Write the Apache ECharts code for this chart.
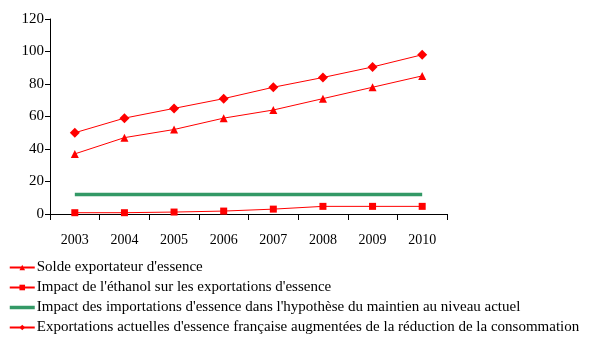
<!DOCTYPE html>
<html>
<head>
<meta charset="utf-8">
<script src="https://cdn.jsdelivr.net/npm/echarts@6/dist/echarts.min.js"></script>
<style>
  html, body { margin: 0; padding: 0; background: #fff; }
  #chart { width: 612px; height: 342px; }
</style>
</head>
<body>
<div id="chart"></div>
<script>
// Years on the x axis
var years = ['2003', '2004', '2005', '2006', '2007', '2008', '2009', '2010'];

// Series values
var soldeExportateur = [37, 47, 52, 59, 64, 71, 78, 85];
var impactEthanol = [0.8, 0.8, 1.2, 1.8, 3, 4.7, 4.7, 4.7];
var impactImportations = [12, 12, 12, 12, 12, 12, 12, 12];
var exportationsActuelles = [50, 59, 65, 71, 78, 84, 90.5, 98];

// Series names (legend text)
var names = [
  "Solde exportateur d'essence",
  "Impact de l'éthanol sur les exportations d'essence",
  "Impact des importations d'essence dans l'hypothèse du maintien au niveau actuel",
  "Exportations actuelles d'essence française augmentées de la réduction de la consommation"
];

var font = 'Liberation Serif';
var red = '#ff0000';
var green = '#339966';

var chart = echarts.init(document.getElementById('chart'), null, { renderer: 'canvas' });

chart.setOption({
  animation: false,
  backgroundColor: '#ffffff',
  grid: { left: 50, right: 165, top: 19, bottom: 128, containLabel: false },
  xAxis: {
    type: 'category',
    data: years,
    boundaryGap: true,
    axisLine: { lineStyle: { color: '#000', width: 1 } },
    axisTick: { show: true, length: 6, lineStyle: { color: '#000' } },
    axisLabel: { color: '#000', fontFamily: font, fontSize: 14, margin: 19 },
    splitLine: { show: false }
  },
  yAxis: {
    type: 'value',
    min: 0,
    max: 120,
    interval: 20,
    axisLine: { show: true, lineStyle: { color: '#000', width: 1 } },
    axisTick: { show: true, length: 5, lineStyle: { color: '#000' } },
    axisLabel: { color: '#000', fontFamily: font, fontSize: 15, margin: 6 },
    splitLine: { show: false }
  },
  legend: {
    orient: 'vertical',
    left: 8,
    top: 260,
    padding: 0,
    itemWidth: 25,
    itemHeight: 7,
    itemGap: 5,
    textStyle: { color: '#000', fontFamily: font, fontSize: 15, padding: [0, 0, 0, -3] },
    data: [
      { name: names[0] },
      { name: names[1] },
      { name: names[2], itemStyle: { color: 'rgba(0,0,0,0)', borderWidth: 0 }, lineStyle: { color: green, width: 3.5 } },
      { name: names[3] }
    ]
  },
  series: [
    {
      name: names[0],
      type: 'line',
      data: soldeExportateur,
      symbol: 'triangle',
      symbolSize: 8,
      lineStyle: { color: red, width: 1 },
      itemStyle: { color: red }
    },
    {
      name: names[1],
      type: 'line',
      data: impactEthanol,
      symbol: 'rect',
      symbolSize: 7,
      lineStyle: { color: red, width: 1 },
      itemStyle: { color: red }
    },
    {
      name: names[2],
      type: 'line',
      data: impactImportations,
      symbol: 'none',
      showSymbol: false,
      lineStyle: { color: green, width: 3.5 },
      itemStyle: { color: green }
    },
    {
      name: names[3],
      type: 'line',
      data: exportationsActuelles,
      symbol: 'diamond',
      symbolSize: 10,
      lineStyle: { color: red, width: 1 },
      itemStyle: { color: red }
    }
  ]
});
</script>
</body>
</html>
